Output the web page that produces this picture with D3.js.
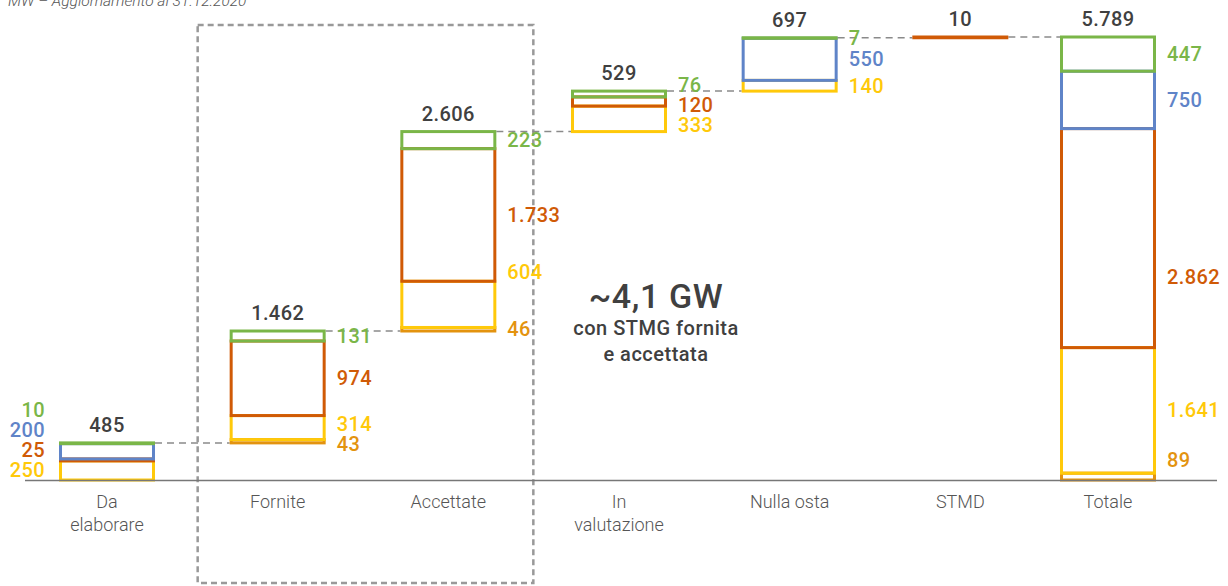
<!DOCTYPE html>
<html lang="it">
<head>
<meta charset="utf-8">
<script src="https://cdn.jsdelivr.net/npm/d3@7"></script>
<style>
  html, body { margin: 0; padding: 0; background: #fff; }
  svg { display: block; font-family: Roboto, "Liberation Sans", Arial, sans-serif; }
</style>
</head>
<body>
<svg id="chart" width="1228" height="586"></svg>
<script>
// Pratiche di connessione per stato (MW)
const categories = ["Da elaborare", "Fornite", "Accettate", "In valutazione", "Nulla osta", "STMD", "Totale"];
const categoryLines = [["Da", "elaborare"], ["Fornite"], ["Accettate"], ["In", "valutazione"], ["Nulla osta"], ["STMD"], ["Totale"]];

// stack order, bottom to top
const seriesKeys = ["ocra", "giallo", "arancio", "blu", "verde"];
const ocra    = [0,   43,   46,   0,   0,   0,   89];
const giallo  = [250, 314,  604,  333, 140, 0,   1641];
const arancio = [25,  974,  1733, 120, 0,   10,  2862];
const blu     = [200, 0,    0,    0,   550, 0,   750];
const verde   = [10,  131,  223,  76,  7,   0,   447];
const seriesValues = { ocra, giallo, arancio, blu, verde };

const subtitle = "MW \u2013 Aggiornamento al 31.12.2020";
const boxCategories = ["Fornite", "Accettate"];
const boxNote = ["con STMG fornita", "e accettata"];

// ---- styling ----
const colors = {
  ocra: "#e3930f",
  giallo: "#ffc90a",
  arancio: "#d05a06",
  blu: "#5f84c8",
  verde: "#7ab648"
};
const textDark = "#404040";
const baseY = 480, topY = 37;
const barW = 96;
const totalShift = -23;
const labelGap = 20;
const labelMaxY = 470;
const valueFont = 20;
const valueSpacing = 0.4;
// fine placement of a few segment labels (pixels)
const labelNudge = { "Accettate|giallo": -32, "Totale|arancio": 39, "Totale|ocra": -10 };

const it = d3.formatLocale({ decimal: ",", thousands: ".", grouping: [3], currency: ["€", ""] });
const fmt = it.format(",d");

const svg = d3.select("#chart");

// ---- data table ----
const rows = categories.map((c, i) => {
  const segs = seriesKeys.map(k => ({ key: k, value: seriesValues[k][i] }));
  const total = d3.sum(segs, s => s.value);
  return { category: c, index: i, segs, total };
});
// waterfall bases: every bar but the last starts where the previous one ends
let running = 0;
rows.forEach((r, i) => {
  if (i === rows.length - 1) { r.base = 0; }
  else { r.base = running; running += r.total; }
  let acc = r.base;
  r.segs.forEach(s => { s.y0 = acc; acc += s.value; s.y1 = acc; });
  r.top = acc;
});

const maxVal = d3.max(rows, r => r.top);
const y = d3.scaleLinear().domain([0, maxVal]).range([baseY, topY]);
const xp = d3.scalePoint().domain(categories).range([107, 1131]);
const xc = c => xp(c) + (c === "Totale" ? totalShift : 0);

// ---- subtitle ----
svg.append("text")
  .attr("x", 8).attr("y", 6)
  .attr("font-size", 15.5).attr("font-style", "italic").attr("font-weight", 300)
  .attr("fill", "#555")
  .text(subtitle);

// ---- dashed box around Fornite + Accettate ----
const boxL = xc(boxCategories[0]) - 80;
const boxR = xc(boxCategories[1]) + 85;
svg.append("rect")
  .attr("x", boxL).attr("y", 25)
  .attr("width", boxR - boxL).attr("height", 558)
  .attr("fill", "none").attr("stroke", "#999").attr("stroke-width", 2.5)
  .attr("stroke-dasharray", "6,4");

// ---- connectors ----
const conn = svg.append("g").attr("stroke", "#8a8a8a").attr("stroke-width", 1.5)
  .attr("stroke-dasharray", "7,5").attr("fill", "none");
for (let i = 0; i < rows.length - 1; i++) {
  const a = rows[i], b = rows[i + 1];
  const yy = y(a.top);
  conn.append("line")
    .attr("x1", xc(a.category) + barW / 2).attr("x2", xc(b.category) - barW / 2)
    .attr("y1", yy).attr("y2", yy);
}

// ---- bars ----
const bars = svg.append("g");
rows.forEach(r => {
  const g = bars.append("g");
  g.selectAll("rect")
    .data(r.segs.filter(s => s.value > 0))
    .join("rect")
    .attr("x", xc(r.category) - barW / 2 + 1.5)
    .attr("width", barW - 3)
    .attr("y", s => y(s.y1))
    .attr("height", s => Math.max(0, y(s.y0) - y(s.y1)))
    .attr("fill", "none")
    .attr("stroke", s => colors[s.key])
    .attr("stroke-width", 3);
});

// ---- baseline ----
svg.append("line")
  .attr("x1", 25).attr("x2", 1217).attr("y1", baseY + 0.5).attr("y2", baseY + 0.5)
  .attr("stroke", "#777").attr("stroke-width", 1.6);

// ---- total labels ----
svg.append("g").selectAll("text")
  .data(rows)
  .join("text")
  .attr("x", r => xc(r.category))
  .attr("y", r => y(r.top) - 11)
  .attr("text-anchor", "middle")
  .attr("font-size", valueFont).attr("font-weight", 500)
  .attr("letter-spacing", valueSpacing)
  .attr("fill", textDark)
  .text(r => fmt(r.total));

// ---- segment labels, spread apart where they collide ----
function spread(items) {
  // items sorted top to bottom by desired y
  let clusters = items.map(d => ({ items: [d], center: d.want }));
  let merged = true;
  while (merged) {
    merged = false;
    for (let i = 0; i < clusters.length - 1; i++) {
      const a = clusters[i], b = clusters[i + 1];
      const aBottom = a.center + (a.items.length - 1) * labelGap / 2;
      const bTop = b.center - (b.items.length - 1) * labelGap / 2;
      if (bTop - aBottom < labelGap) {
        const its = a.items.concat(b.items);
        clusters.splice(i, 2, { items: its, center: d3.mean(its, d => d.want) });
        merged = true;
        break;
      }
    }
  }
  clusters.forEach(cl => {
    const n = cl.items.length;
    let start = cl.center - (n - 1) * labelGap / 2;
    const bottom = start + (n - 1) * labelGap;
    if (bottom > labelMaxY) start -= bottom - labelMaxY;
    cl.items.forEach((d, j) => { d.y = start + j * labelGap; });
  });
}

const labelG = svg.append("g").attr("font-size", valueFont).attr("font-weight", 500)
  .attr("letter-spacing", valueSpacing);
rows.forEach((r, i) => {
  const segs = r.segs.filter(s => s.value > 0);
  if (r.category === "STMD") return;
  const items = segs.map(s => ({ s, want: (y(s.y0) + y(s.y1)) / 2 }))
    .sort((a, b) => a.want - b.want);
  spread(items);
  const leftSide = i === 0;
  items.forEach(d => {
    const nudge = labelNudge[r.category + "|" + d.s.key] || 0;
    labelG.append("text")
      .attr("x", leftSide ? xc(r.category) - barW / 2 - 14 : xc(r.category) + barW / 2 + 11)
      .attr("y", d.y + nudge)
      .attr("dy", "0.35em")
      .attr("text-anchor", leftSide ? "end" : "start")
      .attr("fill", colors[d.s.key])
      .text(fmt(d.s.value));
  });
});

// ---- category labels ----
const catG = svg.append("g").attr("font-size", 18).attr("font-weight", 300).attr("fill", "#555");
categories.forEach((c, i) => {
  const t = catG.append("text").attr("text-anchor", "middle");
  categoryLines[i].forEach((line, j) => {
    t.append("tspan").attr("x", xc(c)).attr("y", 508 + j * 23).text(line);
  });
});

// ---- box note ----
const boxSum = d3.sum(rows.filter(r => boxCategories.includes(r.category)), r => r.total);
const gw = it.format(".1f")(boxSum / 1000);
const noteX = 656;
svg.append("text")
  .attr("x", noteX).attr("y", 308)
  .attr("text-anchor", "middle")
  .attr("font-size", 34).attr("font-weight", 500).attr("fill", textDark)
  .attr("letter-spacing", 0.6)
  .text("~" + gw + " GW");
svg.append("text")
  .attr("text-anchor", "middle")
  .attr("font-size", 20).attr("font-weight", 500).attr("fill", textDark)
  .attr("letter-spacing", 0.5)
  .selectAll("tspan").data(boxNote).join("tspan")
  .attr("x", noteX).attr("y", (d, j) => 335 + j * 26)
  .text(d => d);
</script>
</body>
</html>
